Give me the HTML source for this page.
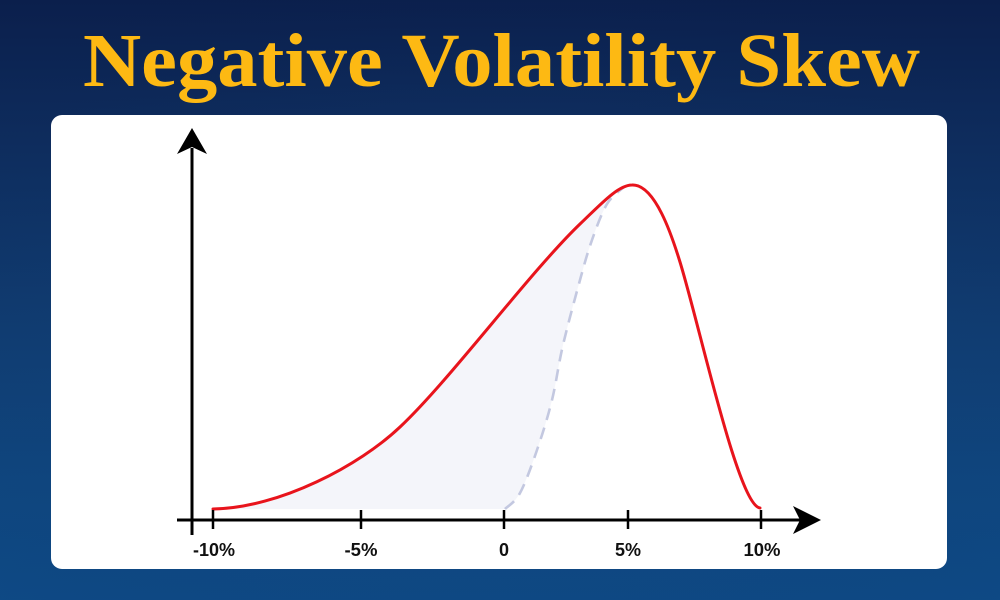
<!DOCTYPE html>
<html>
<head>
<meta charset="utf-8">
<style>
  html,body{margin:0;padding:0;}
  body{width:1000px;height:600px;overflow:hidden;
    background:linear-gradient(180deg,#0b1f4c 0%,#0e2d5e 25%,#103d72 55%,#0f4780 80%,#0e4a86 100%);}
  svg{display:block;}
</style>
</head>
<body>
<svg width="1000" height="600" viewBox="0 0 1000 600" xmlns="http://www.w3.org/2000/svg">
  <defs>
    <radialGradient id="glow" cx="0.5" cy="0.6" r="0.7">
      <stop offset="0" stop-color="#1a5a98" stop-opacity="0.35"/>
      <stop offset="1" stop-color="#0b2455" stop-opacity="0"/>
    </radialGradient>
  </defs>
  <rect x="0" y="0" width="1000" height="600" fill="url(#glow)"/>

  <!-- Title -->
  <text x="83" y="86" textLength="837" lengthAdjust="spacingAndGlyphs"
        font-family="'Liberation Serif', serif" font-weight="bold" font-size="76"
        fill="#fdb913">Negative Volatility Skew</text>

  <!-- White card -->
  <rect x="51" y="115" width="896" height="454" rx="11" ry="11" fill="#ffffff"/>

  <!-- Fill region -->
  <path fill="#f4f5fa" d="M213,509
    C280,508 360,465 400,427
    C450,380 530,272 580,224
    C600,205 618,185 632,185
    L624,187
    C621.2,189.8 612.3,195.2 607,204
    C601.7,212.8 596.5,227.3 592,240
    C587.5,252.7 584.8,262.5 580,280
    C575.2,297.5 567.7,325 563,345
    C558.3,365 556.3,382.5 552,400
    C547.7,417.5 542.3,434.5 537,450
    C531.7,465.5 525.3,483.2 520,493
    C514.7,502.8 507.5,506.3 505,509
    Z"/>

  <!-- Dashed curve -->
  <path fill="none" stroke="#c3c8e0" stroke-width="2.6" stroke-dasharray="12 8" stroke-linecap="butt" d="M505,509
    C507.5,506.3 514.7,502.8 520,493
    C525.3,483.2 531.7,465.5 537,450
    C542.3,434.5 547.7,417.5 552,400
    C556.3,382.5 558.3,365 563,345
    C567.7,325 575.2,297.5 580,280
    C584.8,262.5 587.5,252.7 592,240
    C596.5,227.3 601.7,212.8 607,204
    C612.3,195.2 621.2,189.8 624,187"/>

  <!-- Red curve -->
  <path fill="none" stroke="#e8141c" stroke-width="3" stroke-linecap="round" stroke-linejoin="round" d="M213,509
    C280,508 360,465 400,427
    C450,380 530,272 580,224
    C600,205 618,185 632,185
    C655,184 672,236 680,262
    C700,327 738,505 760,508"/>

  <!-- Axes -->
  <g stroke="#000" stroke-width="3" fill="none">
    <line x1="192" y1="148" x2="192" y2="535"/>
    <line x1="177" y1="520" x2="800" y2="520"/>
  </g>
  <path d="M192,128 L207,154 L192,147 L177,154 Z" fill="#000"/>
  <path d="M821,520 L793,506 L800,520 L793,534 Z" fill="#000"/>

  <!-- Ticks -->
  <g stroke="#000" stroke-width="2.5">
    <line x1="213" y1="510" x2="213" y2="529"/>
    <line x1="361" y1="510" x2="361" y2="529"/>
    <line x1="504" y1="510" x2="504" y2="529"/>
    <line x1="628" y1="510" x2="628" y2="529"/>
    <line x1="761" y1="510" x2="761" y2="529"/>
  </g>

  <!-- Tick labels -->
  <g font-family="'Liberation Sans', sans-serif" font-weight="bold" font-size="18" fill="#111" text-anchor="middle">
    <text x="214" y="556" textLength="42" lengthAdjust="spacingAndGlyphs">-10%</text>
    <text x="361" y="556" textLength="33" lengthAdjust="spacingAndGlyphs">-5%</text>
    <text x="504" y="556">0</text>
    <text x="628" y="556" textLength="26" lengthAdjust="spacingAndGlyphs">5%</text>
    <text x="762" y="556" textLength="37" lengthAdjust="spacingAndGlyphs">10%</text>
  </g>
</svg>
</body>
</html>
